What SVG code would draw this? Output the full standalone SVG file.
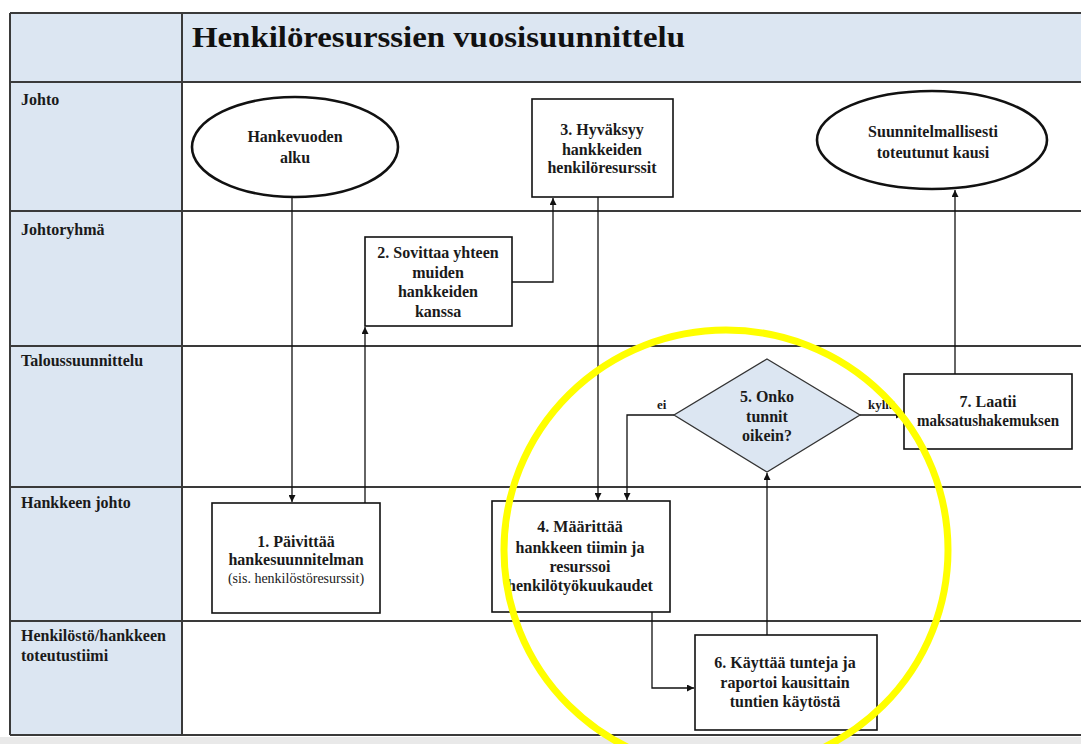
<svg xmlns="http://www.w3.org/2000/svg" width="1081" height="744" viewBox="0 0 1081 744">
<style>
.lane{fill:#ffffff;}
.hdr{fill:#dce6f2;}
.grid{stroke:#3a3a3a;stroke-width:2;fill:none;}
.lbl{font-family:"Liberation Serif",serif;font-weight:bold;font-size:16px;fill:#1a1a1a;}
.title{font-family:"Liberation Serif",serif;font-weight:bold;font-size:30px;fill:#111;}
.box{fill:#ffffff;stroke:#111;stroke-width:1.6;}
.ell{fill:#ffffff;stroke:#111;stroke-width:2.6;}
.dia{fill:#dce6f2;stroke:#333;stroke-width:1.3;}
.t{font-family:"Liberation Serif",serif;font-weight:bold;font-size:16px;fill:#1a1a1a;text-anchor:middle;}
.ts{font-family:"Liberation Serif",serif;font-size:14px;fill:#1a1a1a;text-anchor:middle;}
.el{font-family:"Liberation Serif",serif;font-weight:bold;font-size:13px;fill:#1a1a1a;}
.con{fill:none;stroke:#111;stroke-width:1.3;}
</style>
<defs>
<marker id="arr" viewBox="0 0 10 10" refX="10" refY="5" markerWidth="7" markerHeight="7" markerUnits="userSpaceOnUse" orient="auto">
<path d="M0,0 L10,5 L0,10 z" fill="#111"/>
</marker>
</defs>
<rect x="0" y="0" width="1081" height="744" fill="#ffffff"/>
<rect x="0" y="737" width="1081" height="7" fill="#e9e9e9"/>
<g id="table">
<rect class="hdr" x="10" y="13" width="1075" height="69"/>
<rect class="hdr" x="10" y="82" width="172" height="653"/>
<line class="grid" x1="10" y1="13" x2="1081" y2="13"/>
<line class="grid" x1="10" y1="82" x2="1081" y2="82"/>
<line class="grid" x1="10" y1="211" x2="1081" y2="211"/>
<line class="grid" x1="10" y1="346" x2="1081" y2="346"/>
<line class="grid" x1="10" y1="487" x2="1081" y2="487"/>
<line class="grid" x1="10" y1="621" x2="1081" y2="621"/>
<line class="grid" x1="10" y1="735" x2="1081" y2="735"/>
<line class="grid" x1="10" y1="13" x2="10" y2="735"/>
<line class="grid" x1="182" y1="13" x2="182" y2="735"/>
<text class="title" x="192" y="47" textLength="493" lengthAdjust="spacingAndGlyphs">Henkilöresurssien vuosisuunnittelu</text>
<text class="lbl" x="21" y="105">Johto</text>
<text class="lbl" x="21" y="235">Johtoryhmä</text>
<text class="lbl" x="21" y="366">Taloussuunnittelu</text>
<text class="lbl" x="21" y="508">Hankkeen johto</text>
<text class="lbl" x="21" y="641">Henkilöstö/hankkeen</text>
<text class="lbl" x="21" y="661">toteutustiimi</text>
</g>
<g id="connectors">
<path class="con" d="M292,197 L292,502" marker-end="url(#arr)"/>
<path class="con" d="M365,503 L365,327" marker-end="url(#arr)"/>
<path class="con" d="M512,282 L553,282 L553,198" marker-end="url(#arr)"/>
<path class="con" d="M598,197 L598,500" marker-end="url(#arr)"/>
<path class="con" d="M674,415 L627,415 L627,500" marker-end="url(#arr)"/>
<path class="con" d="M860,415 L903,415" marker-end="url(#arr)"/>
<path class="con" d="M955,374 L955,190" marker-end="url(#arr)"/>
<path class="con" d="M652,612 L652,688 L694,688" marker-end="url(#arr)"/>
<path class="con" d="M767,635 L767,473" marker-end="url(#arr)"/>
<text class="el" x="657" y="409">ei</text>
<text class="el" x="868" y="409">kyllä</text>
</g>
<g id="n0">
<ellipse class="ell" cx="295" cy="147" rx="103" ry="50"/>
<text class="t" x="295" y="142">Hankevuoden</text>
<text class="t" x="295" y="163">alku</text>
</g>
<g id="n1">
<rect class="box" x="212" y="503" width="168" height="110"/>
<text class="t" x="296" y="547">1. Päivittää</text>
<text class="t" x="296" y="565">hankesuunnitelman</text>
<text class="ts" x="296" y="583">(sis. henkilöstöresurssit)</text>
</g>
<g id="n2">
<rect class="box" x="365" y="237" width="147" height="89"/>
<text class="t" x="438" y="258">2. Sovittaa yhteen</text>
<text class="t" x="438" y="278">muiden</text>
<text class="t" x="438" y="297">hankkeiden</text>
<text class="t" x="438" y="317">kanssa</text>
</g>
<g id="n3">
<rect class="box" x="532" y="99" width="141" height="98"/>
<text class="t" x="602" y="135">3. Hyväksyy</text>
<text class="t" x="602" y="155">hankkeiden</text>
<text class="t" x="602" y="173">henkilöresurssit</text>
</g>
<g id="n4">
<rect class="box" x="492" y="501" width="178" height="111"/>
<text class="t" x="580" y="532">4. Määrittää</text>
<text class="t" x="580" y="553">hankkeen tiimin ja</text>
<text class="t" x="580" y="572">resurssoi</text>
<text class="t" x="580" y="591">henkilötyökuukaudet</text>
</g>
<g id="n5">
<polygon class="dia" points="767,359 860,415 767,472 674,415"/>
<text class="t" x="767" y="402">5. Onko</text>
<text class="t" x="767" y="422">tunnit</text>
<text class="t" x="767" y="441">oikein?</text>
</g>
<g id="n6">
<rect class="box" x="695" y="635" width="182" height="95"/>
<text class="t" x="785" y="668">6. Käyttää tunteja ja</text>
<text class="t" x="785" y="688">raportoi kausittain</text>
<text class="t" x="785" y="707">tuntien käytöstä</text>
</g>
<g id="n7">
<rect class="box" x="904" y="374" width="168" height="75"/>
<text class="t" x="988" y="407">7. Laatii</text>
<text class="t" x="988" y="426" textLength="142" lengthAdjust="spacingAndGlyphs">maksatushakemuksen</text>
</g>
<g id="n8">
<ellipse class="ell" cx="932" cy="140" rx="115" ry="49"/>
<text class="t" x="933" y="137">Suunnitelmallisesti</text>
<text class="t" x="933" y="158">toteutunut kausi</text>
</g>
<g id="highlight">
<ellipse cx="726" cy="550" rx="222" ry="220" fill="none" stroke="#ffff00" stroke-width="7"/>
</g>
</svg>
